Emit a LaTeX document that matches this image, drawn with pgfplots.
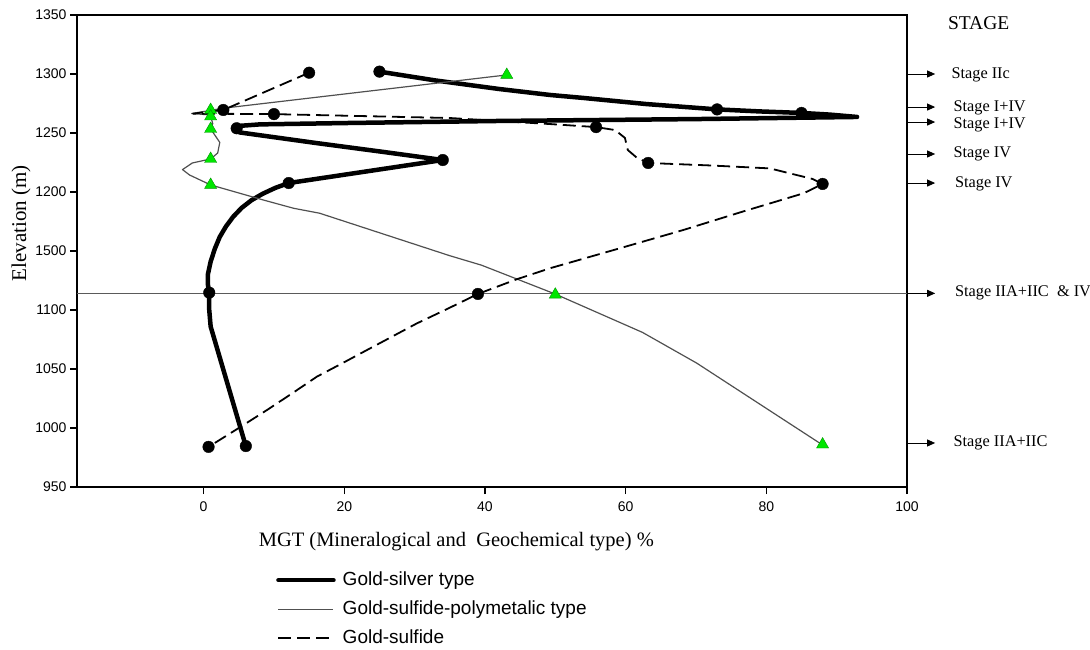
\documentclass[border=0pt]{standalone}
\usepackage{fontspec}
\setmainfont{Liberation Serif}
\newfontfamily\arial{Liberation Sans}
\usepackage{pgfplots}
\pgfplotsset{compat=1.18}
\usetikzlibrary{arrows.meta}
\definecolor{tgreen}{RGB}{0,230,0}
\definecolor{tgreenedge}{RGB}{0,150,0}
\definecolor{thinline}{RGB}{80,80,80}
\definecolor{refline}{RGB}{90,90,90}

\begin{document}
\begin{tikzpicture}
\useasboundingbox (-77pt,-163pt) rectangle (1013pt,487pt);
\begin{axis}[
  scale only axis, width=830pt, height=472pt,
  xmin=-18, xmax=100, ymin=950, ymax=1350,
  xtick={0,20,...,100},
  ytick={950,1000,1050,1100,1150,1200,1250,1300,1350},
  yticklabels={950,1000,1050,1100,1500,1200,1250,1300,1350},
  tick pos=left, tick align=outside, major tick length=7pt,
  axis line style={line width=1.6pt},
  every tick/.style={line width=1.2pt, black},
  tick label style={font=\arial\fontsize{14}{16}\selectfont},
  xticklabel style={yshift=-4pt},
  /pgf/number format/assume math mode=true,
  xlabel={MGT (Mineralogical and\ \ Geochemical type) \%},
  ylabel={Elevation (m)},
  xlabel style={at={(axis description cs:0.457,-0.1165)}, anchor=center, font=\fontsize{20.5}{24}\selectfont},
  ylabel style={at={(axis description cs:-0.0675,0.559)}, anchor=center, font=\fontsize{21}{24}\selectfont},
  clip=false,
  legend cell align=left,
  legend image code/.code={\draw[#1] (0pt,0pt) -- (55pt,0pt);},
  legend style={at={(axis description cs:0.2398,-0.178)}, anchor=north west,
    draw=none, fill=none, inner sep=0pt, row sep=11pt,
    font=\arial\fontsize{19}{22}\selectfont,
    nodes={inner sep=0pt, text height=14pt, text depth=4pt},
    /tikz/every odd column/.append style={column sep=7pt}},
]
% reference line at 1114 m
\addplot[forget plot, refline, line width=0.9pt] coordinates {(-18,1114.1) (100,1114.1)};

% Gold-silver type
\addplot[black, line width=4.5pt, line join=round, line cap=round] coordinates {
(25,1302) (33,1294.5) (42,1287.3) (49.3,1282.2) (54,1279.7) (63,1274.5) (73,1270) (79,1268.3) (85,1267) (89,1265.6) (92.9,1263.6)
(70,1261.8) (42,1260.2) (20.8,1258.5) (8,1257.3) (5,1256) (4.6,1254) (5.1,1250.5) (16,1241.5) (25.5,1234) (34,1227.1)
(12.1,1207.6) (10.2,1203.5) (8.4,1198.5) (6.8,1193) (5.4,1186.5) (4.2,1179) (3.2,1171) (2.3,1162) (1.6,1152) (1.0,1141)
(0.6,1130) (0.6,1122) (0.8,1114.7) (0.8,1100) (1.0,1086) (6,984.7)};
\addlegendentry{Gold-silver type}

% Gold-sulfide-polymetalic type
\addplot[thinline, line width=1.2pt, line join=round] coordinates {
(43.1,1299.2) (2.8,1271) (-1.7,1266.5) (0.5,1265.5) (1,1264) (1.3,1258) (1,1253.5) (2.3,1242) (2,1233) (1,1228)
(-1.6,1224.6) (-3,1219) (-2,1214.4) (1,1206) (8.5,1193.2) (12.8,1186.2) (16.5,1182) (35,1146) (39.5,1138)
(50,1113.5) (62.4,1081) (70.1,1055) (88,985.6)};
\addlegendentry{Gold-sulfide-polymetalic type}

% Gold-sulfide
\addplot[black, line width=1.8pt, dash pattern=on 13pt off 6pt, line join=round] coordinates {
(15,1301.1) (2.8,1269.5) (-1.5,1266.4) (10,1266) (35,1262.7) (49.2,1257.6) (55.8,1255) (58.5,1252.5) (59.9,1245.8)
(60.3,1235.6) (61.6,1229) (63.2,1224.6) (72,1222.5) (80.5,1220) (86.6,1211) (88,1206.8) (85.3,1198.9) (76.7,1183.5) (68.2,1167.8)
(58.7,1151.5) (49.2,1135.3) (44.5,1126) (39,1113.6) (34.5,1100.5) (30.3,1088.6) (26.5,1076.5) (23.2,1066) (19.6,1054.5)
(16.1,1043.5) (12.5,1029) (9,1015.2) (5,1000) (0.7,984)};
\addlegendentry{Gold-sulfide}

% markers
\addplot[forget plot, only marks, mark=*, mark size=5.8pt, black] coordinates {
(25,1302) (73,1270) (85,1267) (4.7,1254) (34,1227.1) (12.1,1207.6) (0.8,1114.7) (6,984.7)};
\addplot[forget plot, only marks, mark=*, mark size=5.8pt, black] coordinates {
(15,1301.1) (2.8,1269.5) (10,1266) (55.8,1255) (63.2,1224.6) (88,1206.8) (39,1113.6) (0.7,984)};
\addplot[forget plot, only marks, mark=triangle*, mark size=7pt, mark options={fill=tgreen, draw=tgreenedge, line width=0.4pt}] coordinates {
(43.1,1299.2) (1,1269.5) (1,1264) (1,1253.4) (1,1228) (1,1206) (50,1113) (88,986)};

% stage arrows and labels
\pgfplotsinvokeforeach{1300,1272,1259.3,1232.2,1207.6,1114.1,987.3}{
  \draw[black, line width=0.9pt, -{Triangle[length=8pt,width=7pt]}] (axis cs:100,#1) -- (axis cs:104,#1);
}
\node[anchor=west, inner sep=0pt, font=\fontsize{19.5}{22}\selectfont] at (axis cs:105.8,1343.2) {STAGE};
\node[anchor=west, inner sep=0pt, font=\fontsize{16.3}{18}\selectfont] at (axis cs:106.3,1299) {Stage IIc};
\node[anchor=west, inner sep=0pt, font=\fontsize{16.3}{18}\selectfont] at (axis cs:106.6,1271) {Stage I+IV};
\node[anchor=west, inner sep=0pt, font=\fontsize{16.3}{18}\selectfont] at (axis cs:106.6,1256.8) {Stage I+IV};
\node[anchor=west, inner sep=0pt, font=\fontsize{16.3}{18}\selectfont] at (axis cs:106.6,1232) {Stage IV};
\node[anchor=west, inner sep=0pt, font=\fontsize{16.3}{18}\selectfont] at (axis cs:106.8,1206.8) {Stage IV};
\node[anchor=west, inner sep=0pt, font=\fontsize{16.3}{18}\selectfont] at (axis cs:106.8,1114.4) {Stage IIA+IIC\ \ \& IV};
\node[anchor=west, inner sep=0pt, font=\fontsize{16.3}{18}\selectfont] at (axis cs:106.6,987) {Stage IIA+IIC};
\end{axis}
\end{tikzpicture}
\end{document}
